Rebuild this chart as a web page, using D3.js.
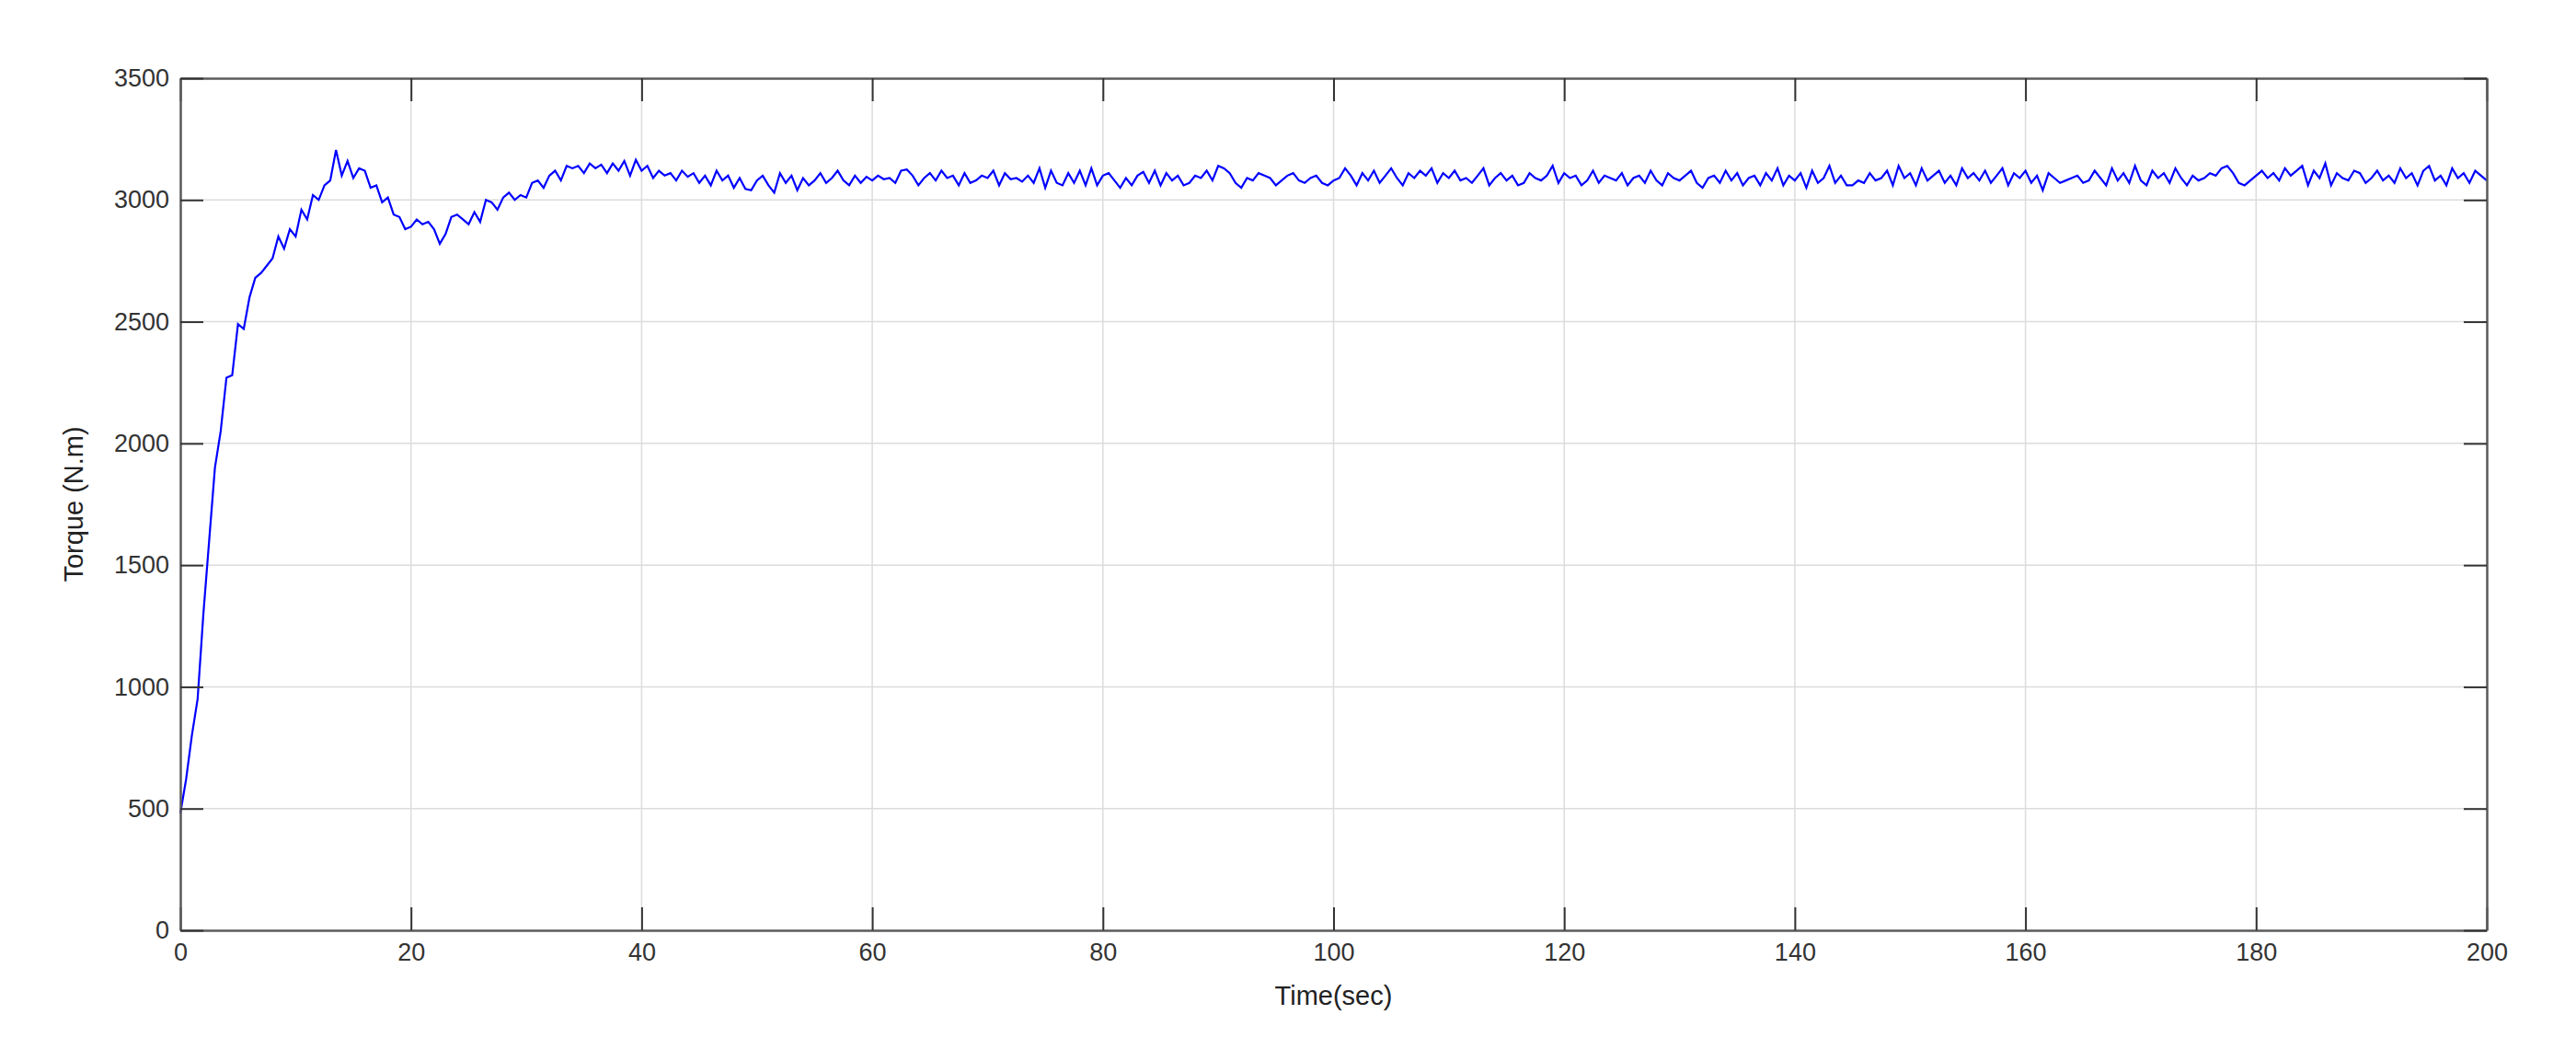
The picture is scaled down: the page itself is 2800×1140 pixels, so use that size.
<!DOCTYPE html>
<html>
<head>
<meta charset="utf-8">
<script src="https://cdn.jsdelivr.net/npm/d3@7"></script>
<style>
  body { margin: 0; background: #fff; }
  text { font-family: "Liberation Sans", Arial, sans-serif; }
</style>
</head>
<body>
<script>
// sampling
const dt = 0.5;

// torque readings (N.m), one every 0.5 s from t = 0
const rise = [480, 620, 800, 950, 1300, 1600, 1900, 2050, 2270, 2280, 2490, 2470, 2600, 2680, 2700, 2730,
  2760, 2850, 2800, 2880, 2850, 2960, 2920, 3020, 3000, 3060, 3080, 3205, 3100, 3160, 3090,
  3130, 3120, 3050, 3060, 2990, 3010, 2940, 2930, 2880, 2890, 2920, 2900, 2910, 2880, 2820, 2860,
  2930, 2940, 2920, 2900, 2950, 2910, 3000, 2990, 2960, 3010, 3030, 3000, 3020, 3010, 3070, 3080,
  3050, 3100, 3120, 3080, 3140, 3130, 3140, 3110, 3150, 3130];
const steady = [3145, 3110, 3150, 3120, 3160, 3100, 3165, 3120, 3140, 3090, 3120, 3100, 3110, 3080, 3120, 3095,
  3110, 3070, 3100, 3060, 3120, 3080, 3100, 3050, 3090, 3045, 3040, 3080, 3100, 3060, 3030, 3110,
  3070, 3100, 3040, 3090, 3060, 3080, 3110, 3070, 3090, 3120, 3080, 3060, 3100, 3070, 3095, 3080,
  3100, 3085, 3090, 3070, 3120, 3125, 3100, 3060, 3090, 3110, 3080, 3120, 3090, 3100, 3060, 3110,
  3070, 3080, 3100, 3090, 3120, 3060, 3110, 3085, 3090, 3075, 3100, 3070, 3130, 3050, 3120, 3070,
  3060, 3110, 3070, 3120, 3060, 3130, 3060, 3100, 3110, 3080, 3050, 3090, 3060, 3100, 3115, 3070,
  3120, 3060, 3110, 3080, 3100, 3060, 3070, 3100, 3090, 3120, 3080, 3140, 3130, 3110, 3070, 3050,
  3090, 3080, 3110, 3100, 3090, 3060, 3080, 3100, 3110, 3080, 3070, 3090, 3100, 3070, 3060, 3080,
  3090, 3130, 3100, 3060, 3110, 3080, 3120, 3070, 3100, 3130, 3090, 3060, 3110, 3090, 3120, 3100,
  3130, 3070, 3110, 3090, 3120, 3080, 3090, 3070, 3100, 3130, 3060, 3090, 3110, 3080, 3100, 3060,
  3070, 3110, 3090, 3080, 3100, 3140, 3070, 3110, 3090, 3100, 3060, 3080, 3120, 3070, 3100, 3090,
  3080, 3110, 3060, 3090, 3100, 3070, 3120, 3080, 3060, 3110, 3090, 3080, 3100, 3120, 3070, 3050,
  3090, 3100, 3070, 3120, 3080, 3110, 3060, 3090, 3100, 3060, 3110, 3080, 3130, 3060, 3100, 3080,
  3110, 3050, 3120, 3070, 3090, 3140, 3070, 3100, 3060, 3060, 3080, 3070, 3110, 3080, 3090, 3120,
  3060, 3140, 3090, 3110, 3060, 3130, 3080, 3100, 3120, 3070, 3100, 3060, 3130, 3090, 3110, 3080,
  3120, 3070, 3100, 3130, 3060, 3110, 3090, 3120, 3070, 3100, 3040, 3110, 3090, 3070, 3080, 3090,
  3100, 3070, 3080, 3120, 3090, 3060, 3130, 3080, 3110, 3070, 3140, 3080, 3060, 3120, 3090, 3110,
  3070, 3130, 3090, 3060, 3100, 3080, 3090, 3110, 3100, 3130, 3140, 3110, 3070, 3060, 3080, 3100,
  3120, 3090, 3110, 3080, 3130, 3100, 3120, 3140, 3060, 3120, 3090, 3150, 3060, 3110, 3090, 3080,
  3120, 3110, 3070, 3090, 3120, 3080, 3100, 3070, 3130, 3090, 3110, 3060, 3120, 3140, 3080, 3100,
  3060, 3130, 3090, 3110, 3070, 3120, 3100, 3080, 3060, 3110, 3090, 3130, 3070, 3100, 3120, 3080,
  3140, 3090, 3060, 3110, 3130, 3070, 3100, 3060, 3080, 3120, 3090, 3100];
const torque = rise.concat(steady);

const xTicks = d3.range(0, 201, 20);
const yTicks = d3.range(0, 3501, 500);

const W = 2800, H = 1140;
const margin = {top: 85, right: 97, bottom: 129, left: 196};

const svg = d3.select("body").append("svg")
  .attr("width", W).attr("height", H);

const x = d3.scaleLinear().domain([0, 200]).range([margin.left, W - margin.right]);
const y = d3.scaleLinear().domain([0, 3500]).range([H - margin.bottom, margin.top]);

// grid
svg.append("g").selectAll("line").data(xTicks.slice(1, -1)).join("line")
  .attr("x1", d => x(d)).attr("x2", d => x(d))
  .attr("y1", y(0)).attr("y2", y(3500))
  .attr("stroke", "#dcdcdc").attr("stroke-width", 1.5);
svg.append("g").selectAll("line").data(yTicks.slice(1, -1)).join("line")
  .attr("y1", d => y(d)).attr("y2", d => y(d))
  .attr("x1", x(0)).attr("x2", x(200))
  .attr("stroke", "#dcdcdc").attr("stroke-width", 1.5);

// data line
const pts = torque.map((v, i) => [i * dt, v]).filter(d => d[0] <= 200);
svg.append("path").datum(pts)
  .attr("fill", "none").attr("stroke", "#0000ff").attr("stroke-width", 2.2)
  .attr("d", d3.line().x(d => x(d[0])).y(d => y(d[1])));

// axes
const fmt = d3.format("d");
const styleAxis = g => {
  g.select(".domain").attr("stroke", "#5a5a5a").attr("stroke-width", 2.5);
  g.selectAll(".tick line").attr("stroke", "#333").attr("stroke-width", 2);
  g.selectAll(".tick text").attr("fill", "#333").style("font-size", "27px");
};
svg.append("g").attr("transform", `translate(0,${y(0)})`)
  .call(d3.axisBottom(x).tickValues(xTicks).tickFormat(fmt).tickSizeInner(-25).tickSizeOuter(0).tickPadding(14))
  .call(styleAxis);
svg.append("g").attr("transform", `translate(0,${y(3500)})`)
  .call(d3.axisTop(x).tickValues(xTicks).tickSizeInner(-25).tickSizeOuter(0).tickFormat(""))
  .call(styleAxis);
svg.append("g").attr("transform", `translate(${x(0)},0)`)
  .call(d3.axisLeft(y).tickValues(yTicks).tickFormat(fmt).tickSizeInner(-25).tickSizeOuter(0).tickPadding(12))
  .call(styleAxis);
svg.append("g").attr("transform", `translate(${x(200)},0)`)
  .call(d3.axisRight(y).tickValues(yTicks).tickSizeInner(-25).tickSizeOuter(0).tickFormat(""))
  .call(styleAxis);

// labels
svg.append("text").attr("x", (x(0) + x(200)) / 2).attr("y", 1092)
  .attr("text-anchor", "middle").attr("fill", "#222").style("font-size", "29px").text("Time(sec)");
svg.append("text").attr("transform", `translate(90,${(y(0) + y(3500)) / 2}) rotate(-90)`)
  .attr("text-anchor", "middle").attr("fill", "#222").style("font-size", "29px").text("Torque (N.m)");
</script>
</body>
</html>
